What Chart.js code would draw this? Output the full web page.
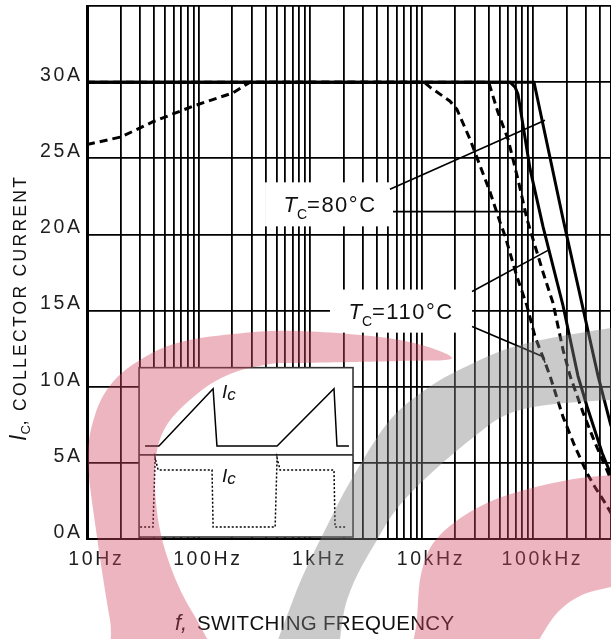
<!DOCTYPE html>
<html><head><meta charset="utf-8">
<script src="https://cdn.jsdelivr.net/npm/chart.js@4.4.1/dist/chart.umd.min.js"></script>
<style>html,body{margin:0;padding:0;background:#fff;overflow:hidden}canvas{display:block}</style>
</head><body>
<canvas id="c" width="611" height="639" style="width:611px;height:639px"></canvas>
<script>
// ---------------- data ----------------
const xTickValues = [10, 100, 1000, 10000, 100000];
const xTickLabels = ['10Hz', '100Hz', '1kHz', '10kHz', '100kHz'];
const yTickValues = [0, 5, 10, 15, 20, 25, 30];
const yTickLabels = ['0A', '5A', '10A', '15A', '20A', '25A', '30A'];
const xMin = 10, xMax = 500000;
const yMin = 0, yMax = 35;

// T_C = 80°C, triangular current (solid)
const saw80Freq = [10, 102000, 186000, 383000, 501000];
const saw80Amp  = [30, 30, 21.0, 10.7, 7.4];
// T_C = 110°C, triangular current (solid)
const saw110Freq = [10, 62200, 69000, 73300, 94000, 123000, 186000, 253000, 305000, 416000, 501000];
const saw110Amp  = [30, 30, 29.67, 29.2, 24.3, 20.5, 15.3, 10.7, 8.7, 5.66, 4.2];
// T_C = 80°C, square current (dashed)
const sq80Freq = [10, 40000, 48500, 59700, 73300, 88300, 97900, 123000, 151000, 186000, 215000, 281000, 360000, 461000, 501000];
const sq80Amp  = [30, 30, 28.0, 26.25, 23.6, 21.0, 19.9, 17.5, 15.5, 12.4, 10.7, 8.3, 6.3, 4.5, 3.9];
// T_C = 110°C, square current (dashed)
const sq110Freq = [10, 20.2, 39.1, 87.5, 204, 290, 10500, 11900, 18000, 20800, 27200, 33500, 41100, 50600, 56100, 71900, 88300, 104000, 128000, 142000, 186000, 238000, 311000, 360000, 442000, 501000];
const sq110Amp  = [25.9, 26.4, 27.4, 28.4, 29.3, 30, 30, 29.67, 28.75, 28.2, 26.25, 24.5, 22.8, 20.8, 19.9, 17.2, 15.3, 13.3, 11.6, 10.7, 8.0, 6.05, 4.2, 3.4, 2.37, 1.7];

// grid positions (1..9 per decade)
const gridMultipliers = [1, 2, 3, 4, 5, 6, 7, 8, 9];
const gridDecades = [10, 100, 1000, 10000, 100000];
const yGridValues = [0, 5, 10, 15, 20, 25, 30, 35];

// annotation anchors (data coordinates: Hz, A)
const labelBoxes = [
  {f0: 395, f1: 5780, a0: 23.42, a1: 20.53, text: '=80°C'},
  {f0: 1510, f1: 28400, a0: 16.38, a1: 13.55, text: '=110°C'}
];
const leaderLines = [
  [[5210, 22.96], [128000, 27.5]],
  [[5550, 21.5], [83000, 21.5]],
  [[28400, 16.25], [136000, 18.95]],
  [[28400, 13.95], [123000, 11.97], [128000, 11.58]]
];
// inset (waveform sketch) box in data coordinates
const insetBox = {f0: 29.3, f1: 2430, a0: 11.25, a1: 0.13, split: 0.515};
const insetSaw = [[.028,.462],[.093,.462],[.346,.124],[.364,.462],[.645,.462],[.911,.124],[.925,.462],[.981,.462]];
const insetSquare = [[.005,.941],[.065,.941],[.075,.533],[.089,.604],[.341,.604],[.346,.941],[.636,.941],[.645,.533],[.659,.604],[.911,.604],[.916,.941],[.972,.941]];

// ---------------- helpers ----------------
const FAM = "'Liberation Sans', Arial, Helvetica, sans-serif";
const pts = (fs, as) => fs.map((f, i) => ({x: f, y: as[i]}));
const xGrid = [];
gridDecades.forEach(d => gridMultipliers.forEach(m => { if (d * m <= xMax) xGrid.push(d * m); }));
xGrid.push(xMax);
const near = (a, b) => Math.abs(a - b) <= 1e-6 * Math.max(1, Math.abs(b));

function runsWidth(ctx, runs) {
  let w = 0;
  for (const r of runs) { ctx.font = r.font; ctx.letterSpacing = r.ls || '0px'; w += ctx.measureText(r.t).width; }
  return w;
}
function drawRuns(ctx, x, y, runs) {
  let cx = x;
  for (const r of runs) {
    ctx.font = r.font; ctx.letterSpacing = r.ls || '0px';
    ctx.fillText(r.t, cx, y + (r.dy || 0));
    cx += ctx.measureText(r.t).width;
  }
  ctx.letterSpacing = '0px';
}
function smoothClosed(ctx, p) {
  const n = p.length;
  ctx.beginPath();
  ctx.moveTo(p[0][0], p[0][1]);
  for (let i = 0; i < n; i++) {
    const p0 = p[(i - 1 + n) % n], p1 = p[i], p2 = p[(i + 1) % n], p3 = p[(i + 2) % n];
    ctx.bezierCurveTo(p1[0] + (p2[0] - p0[0]) / 6, p1[1] + (p2[1] - p0[1]) / 6,
                      p2[0] - (p3[0] - p1[0]) / 6, p2[1] - (p3[1] - p1[1]) / 6, p2[0], p2[1]);
  }
  ctx.closePath();
}

// watermark outlines (canvas pixels, decorative)
const wmPink1 = [[122,680],[110,620],[97,537],[88,460],[95,415],[112,383],[140,360],[177,343],[233,334],[300,331],[400,340],[452,358],[400,361],[300,363],[270,364],[230,374],[197,394],[165,428],[155,470],[160,530],[178,585],[205,635],[230,690]];
const wmGray = [[268,690],[293,600],[330,520],[357,470],[390,420],[425,390],[463,368],[520,345],[611,328],[660,324],[660,402],[611,400],[520,410],[470,440],[407,497],[377,540],[347,600],[327,690]];
const wmPink2 = [[414,690],[417,620],[422,570],[440,535],[487,503],[553,483],[611,475],[670,473],[670,585],[611,587],[560,610],[500,690]];

const TICK_LS = '2.6px';
const deco = {
  id: 'deco',
  beforeDraw(c) {
    const ctx = c.ctx;
    ctx.save(); ctx.fillStyle = '#fff'; ctx.fillRect(0, 0, c.width, c.height); ctx.restore();
    ctx.letterSpacing = TICK_LS;
  },
  beforeDatasetsDraw(c) { c.ctx.letterSpacing = '0px'; },
  afterDatasetsDraw(c) {
    const ctx = c.ctx, X = c.scales.x, Y = c.scales.y;
    const px = f => X.getPixelForValue(f), py = a => Y.getPixelForValue(a);
    ctx.save();
    ctx.letterSpacing = '0px';
    // label boxes
    labelBoxes.forEach(b => {
      const x0 = px(b.f0), x1 = px(b.f1), y0 = py(b.a0), y1 = py(b.a1);
      ctx.fillStyle = '#fff';
      ctx.fillRect(x0, y0, x1 - x0, y1 - y0);
    });
    // leader lines
    ctx.strokeStyle = '#000'; ctx.lineWidth = 1.6;
    leaderLines.forEach(l => {
      ctx.beginPath();
      l.forEach((p, i) => { const x = px(p[0]), y = py(p[1]); i ? ctx.lineTo(x, y) : ctx.moveTo(x, y); });
      ctx.stroke();
    });
    // label texts
    ctx.fillStyle = '#111'; ctx.textBaseline = 'alphabetic'; ctx.textAlign = 'left';
    labelBoxes.forEach(b => {
      const x0 = px(b.f0), x1 = px(b.f1), y0 = py(b.a0), y1 = py(b.a1);
      const runs = [
        {t: 'T', font: 'italic 22px ' + FAM},
        {t: 'C', font: '14px ' + FAM, dy: 7},
        {t: b.text, font: '22px ' + FAM, ls: '1.5px'}
      ];
      const w = runsWidth(ctx, runs);
      drawRuns(ctx, (x0 + x1) / 2 - w / 2, (y0 + y1) / 2 + 8, runs);
    });
    // inset
    const ix0 = px(insetBox.f0), ix1 = px(insetBox.f1), iy0 = py(insetBox.a0), iy1 = py(insetBox.a1);
    const iw = ix1 - ix0, ih = iy1 - iy0;
    ctx.fillStyle = '#fff'; ctx.fillRect(ix0, iy0, iw, ih);
    ctx.strokeStyle = '#333'; ctx.lineWidth = 1.6;
    ctx.strokeRect(ix0, iy0, iw, ih);
    ctx.beginPath(); ctx.moveTo(ix0, iy0 + ih * insetBox.split); ctx.lineTo(ix1, iy0 + ih * insetBox.split); ctx.stroke();
    ctx.strokeStyle = '#000'; ctx.lineWidth = 1.5;
    ctx.beginPath();
    insetSaw.forEach((p, i) => { const x = ix0 + p[0] * iw, y = iy0 + p[1] * ih; i ? ctx.lineTo(x, y) : ctx.moveTo(x, y); });
    ctx.stroke();
    ctx.setLineDash([2, 2]);
    ctx.beginPath();
    insetSquare.forEach((p, i) => { const x = ix0 + p[0] * iw, y = iy0 + p[1] * ih; i ? ctx.lineTo(x, y) : ctx.moveTo(x, y); });
    ctx.stroke();
    ctx.setLineDash([]);
    ctx.fillStyle = '#111';
    [[.388, .178], [.388, .675]].forEach(p => {
      drawRuns(ctx, ix0 + p[0] * iw, iy0 + p[1] * ih, [
        {t: 'I', font: 'italic 19px ' + FAM},
        {t: 'c', font: 'italic 17px ' + FAM, dy: 2}
      ]);
    });
    ctx.restore();
  },
  afterDraw(c) {
    const ctx = c.ctx;
    ctx.save();
    ctx.fillStyle = '#111'; ctx.textBaseline = 'alphabetic'; ctx.textAlign = 'left';
    // x title
    drawRuns(ctx, 175, 630, [{t: 'f,', font: 'italic 22px ' + FAM}]);
    drawRuns(ctx, 197, 630, [{t: 'SWITCHING FREQUENCY', font: '20.5px ' + FAM, ls: '0.3px'}]);
    // y title
    ctx.translate(26, 441);
    ctx.rotate(-Math.PI / 2);
    drawRuns(ctx, 0, 0, [
      {t: 'I', font: 'italic 23px ' + FAM},
      {t: 'C', font: '13px ' + FAM, dy: 4},
      {t: ', COLLECTOR CURRENT', font: '17.5px ' + FAM, ls: '2.3px'}
    ]);
    ctx.restore();
    // watermark overlay
    ctx.save();
    ctx.fillStyle = 'rgba(210,70,95,0.40)';
    smoothClosed(ctx, wmPink1); ctx.fill();
    smoothClosed(ctx, wmPink2); ctx.fill();
    ctx.fillStyle = 'rgba(128,128,128,0.42)';
    smoothClosed(ctx, wmGray); ctx.fill();
    ctx.restore();
  }
};

const tickFont = {family: FAM, size: 19.5};
const chart = new Chart(document.getElementById('c'), {
  type: 'line',
  data: {
    datasets: [
      {label: 'Triangular, T_C=80°C', data: pts(saw80Freq, saw80Amp), borderColor: '#000', borderWidth: 3, pointRadius: 0, tension: 0, fill: false},
      {label: 'Triangular, T_C=110°C', data: pts(saw110Freq, saw110Amp), borderColor: '#000', borderWidth: 3, pointRadius: 0, tension: 0, fill: false},
      {label: 'Square, T_C=80°C', data: pts(sq80Freq, sq80Amp), borderColor: '#000', borderWidth: 3, borderDash: [8, 5], pointRadius: 0, tension: 0, fill: false},
      {label: 'Square, T_C=110°C', data: pts(sq110Freq, sq110Amp), borderColor: '#000', borderWidth: 3, borderDash: [8, 5], pointRadius: 0, tension: 0, fill: false}
    ]
  },
  options: {
    responsive: false, animation: false, devicePixelRatio: 1,
    layout: {padding: {top: 6, left: 0, right: 0, bottom: 0}},
    plugins: {legend: {display: false}, tooltip: {enabled: false}},
    scales: {
      x: {
        type: 'logarithmic', min: xMin, max: xMax,
        afterBuildTicks: s => { s.ticks = xGrid.map(v => ({value: v})); },
        grid: {color: '#000', lineWidth: 1.8, drawTicks: false},
        border: {color: '#000', width: 2},
        ticks: {
          autoSkip: false, maxRotation: 0, minRotation: 0, padding: 9, labelOffset: 9.3,
          color: '#1e1e1e', font: tickFont,
          callback: v => { const i = xTickValues.findIndex(t => near(v, t)); return i >= 0 ? xTickLabels[i] : ''; }
        },
        afterFit: s => { s.height = 100; s.paddingLeft = 0; s.paddingRight = 0; }
      },
      y: {
        type: 'linear', min: yMin, max: yMax,
        afterBuildTicks: s => { s.ticks = yGridValues.map(v => ({value: v})); },
        grid: {color: '#000', lineWidth: 1.8, drawTicks: false},
        border: {color: '#000', width: 3},
        ticks: {
          padding: 4.5, labelOffset: -6.5, color: '#1e1e1e', font: tickFont,
          callback: v => { const i = yTickValues.findIndex(t => near(v, t)); return i >= 0 ? yTickLabels[i] : ''; }
        },
        afterFit: s => { s.width = 87; s.paddingTop = 0; s.paddingBottom = 0; }
      }
    }
  },
  plugins: [deco]
});
</script>
</body></html>
